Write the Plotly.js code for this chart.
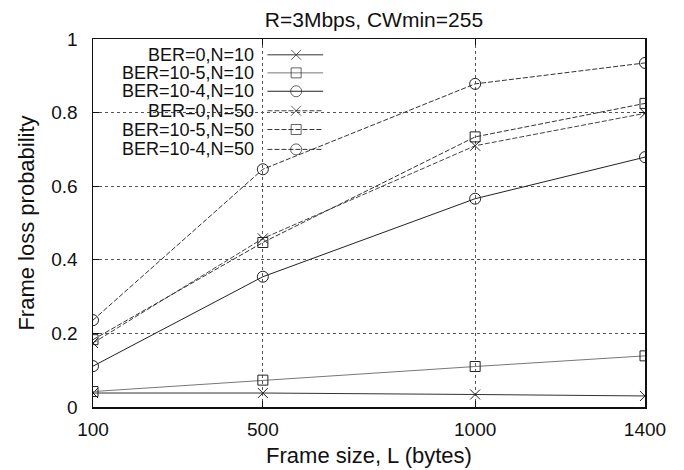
<!DOCTYPE html>
<html>
<head>
<meta charset="utf-8">
<script src="https://cdn.plot.ly/plotly-3.0.1.min.js"></script>
<style>html,body{margin:0;padding:0;background:#fff;}#chart{width:684px;height:470px;}</style>
</head>
<body>
<div id="chart"></div>
<script>
// Data
const frameSize = [100, 500, 1000, 1400];
const seriesNames = ["BER=0,N=10", "BER=10-5,N=10", "BER=10-4,N=10", "BER=0,N=50", "BER=10-5,N=50", "BER=10-4,N=50"];
const ber0_n10   = [0.038, 0.038, 0.034, 0.030];
const ber1e5_n10 = [0.042, 0.073, 0.110, 0.139];
const ber1e4_n10 = [0.111, 0.354, 0.566, 0.679];
const ber0_n50   = [0.174, 0.458, 0.710, 0.798];
const ber1e5_n50 = [0.183, 0.447, 0.734, 0.825];
const ber1e4_n50 = [0.236, 0.646, 0.878, 0.935];
const xTicks = [100, 500, 1000, 1400];
const yTicks = [0, 0.2, 0.4, 0.6, 0.8, 1];
const yTickText = ["0", "0.2", "0.4", "0.6", "0.8", "1"];

const seriesData = [ber0_n10, ber1e5_n10, ber1e4_n10, ber0_n50, ber1e5_n50, ber1e4_n50];
const styles = [
  {sym: 'x-thin-open', size: 10, color: '#333', dash: 'solid'},
  {sym: 'square-open', size: 10, color: '#777', dash: 'solid'},
  {sym: 'circle-open', size: 11, color: '#222', dash: 'solid'},
  {sym: 'x-thin-open', size: 10, color: '#444', dash: '5px,2px'},
  {sym: 'square-open', size: 10, color: '#333', dash: '5px,2px'},
  {sym: 'circle-open', size: 11, color: '#333', dash: '5px,2px'}
];

const FONT = '"Liberation Sans", Arial, Helvetica, sans-serif';
const traces = [];
seriesData.forEach((ys, i) => {
  const s = styles[i];
  traces.push({
    x: frameSize, y: ys, type: 'scatter', mode: 'lines+markers', name: seriesNames[i],
    line: {color: s.color, width: 1, dash: s.dash},
    marker: {symbol: s.sym, size: s.size, color: '#222', line: {color: '#222', width: 1}},
    showlegend: false, hoverinfo: 'skip'
  });
});

// custom gnuplot-style key (text right-aligned, sample on the right)
const keyRows = [0.957, 0.908, 0.858, 0.805, 0.754, 0.700];
const keyTextX = 0.294, keyL = 0.316, keyM = 0.368, keyR = 0.417;
const annotations = [];
seriesNames.forEach((n, i) => {
  const s = styles[i];
  annotations.push({xref: 'paper', yref: 'paper', x: keyTextX, y: keyRows[i], xanchor: 'right', yanchor: 'middle',
    text: n, showarrow: false, height: 18, borderpad: 0, font: {family: FONT, size: 18, color: '#111'}});
  traces.push({
    x: [keyL, keyM, keyR], y: [keyRows[i], keyRows[i], keyRows[i]], xaxis: 'x2', yaxis: 'y2',
    type: 'scatter', mode: 'lines+markers',
    line: {color: s.color, width: 1, dash: s.dash},
    marker: {symbol: s.sym, size: [0, s.size, 0], color: '#222', line: {color: '#222', width: 1}},
    showlegend: false, hoverinfo: 'skip'
  });
});

const layout = {
  width: 684, height: 470,
  margin: {l: 92.5, r: 39, t: 39.3, b: 62.7, pad: 0},
  paper_bgcolor: '#fff', plot_bgcolor: '#fff',
  font: {family: FONT, color: '#111'},
  showlegend: false,
  title: {text: 'R=3Mbps, CWmin=255', font: {family: FONT, size: 21, color: '#111'},
    xref: 'paper', x: 0.509, xanchor: 'center', yref: 'container', y: 0.958, yanchor: 'middle'},
  xaxis: {
    range: [100, 1400], tickvals: xTicks, ticktext: xTicks.map(String),
    ticks: 'inside', ticklen: 6, tickwidth: 1, tickcolor: '#111',
    showline: true, linecolor: '#111', linewidth: 1.5, mirror: 'ticks',
    showgrid: true, gridcolor: '#555', gridwidth: 1, griddash: 'dot',
    zeroline: false, tickfont: {family: FONT, size: 19, color: '#111'},
    ticklabelstandoff: 5,
    title: {text: 'Frame size, L (bytes)', font: {family: FONT, size: 22, color: '#111'}, standoff: 8}
  },
  yaxis: {
    range: [0, 1], tickvals: yTicks, ticktext: yTickText,
    ticks: 'inside', ticklen: 6, tickwidth: 1, tickcolor: '#111',
    showline: true, linecolor: '#111', linewidth: 1.5, mirror: 'ticks',
    showgrid: true, gridcolor: '#555', gridwidth: 1, griddash: 'dot',
    zeroline: false, tickfont: {family: FONT, size: 19, color: '#111'},
    ticklabelstandoff: 10,
    title: {text: 'Frame loss probability', font: {family: FONT, size: 22, color: '#111'}, standoff: 10}
  },
  xaxis2: {overlaying: 'x', range: [0, 1], visible: false, fixedrange: true},
  yaxis2: {overlaying: 'y', range: [0, 1], visible: false, fixedrange: true},
  shapes: [
    {type: 'rect', xref: 'paper', yref: 'paper', x0: 0.003, x1: 0.439, y0: 0.665, y1: 0.997,
     fillcolor: '#fff', line: {width: 0}, layer: 'between'}
  ],
  annotations: annotations
};

Plotly.newPlot('chart', traces, layout, {staticPlot: true, displayModeBar: false});
</script>
</body>
</html>
